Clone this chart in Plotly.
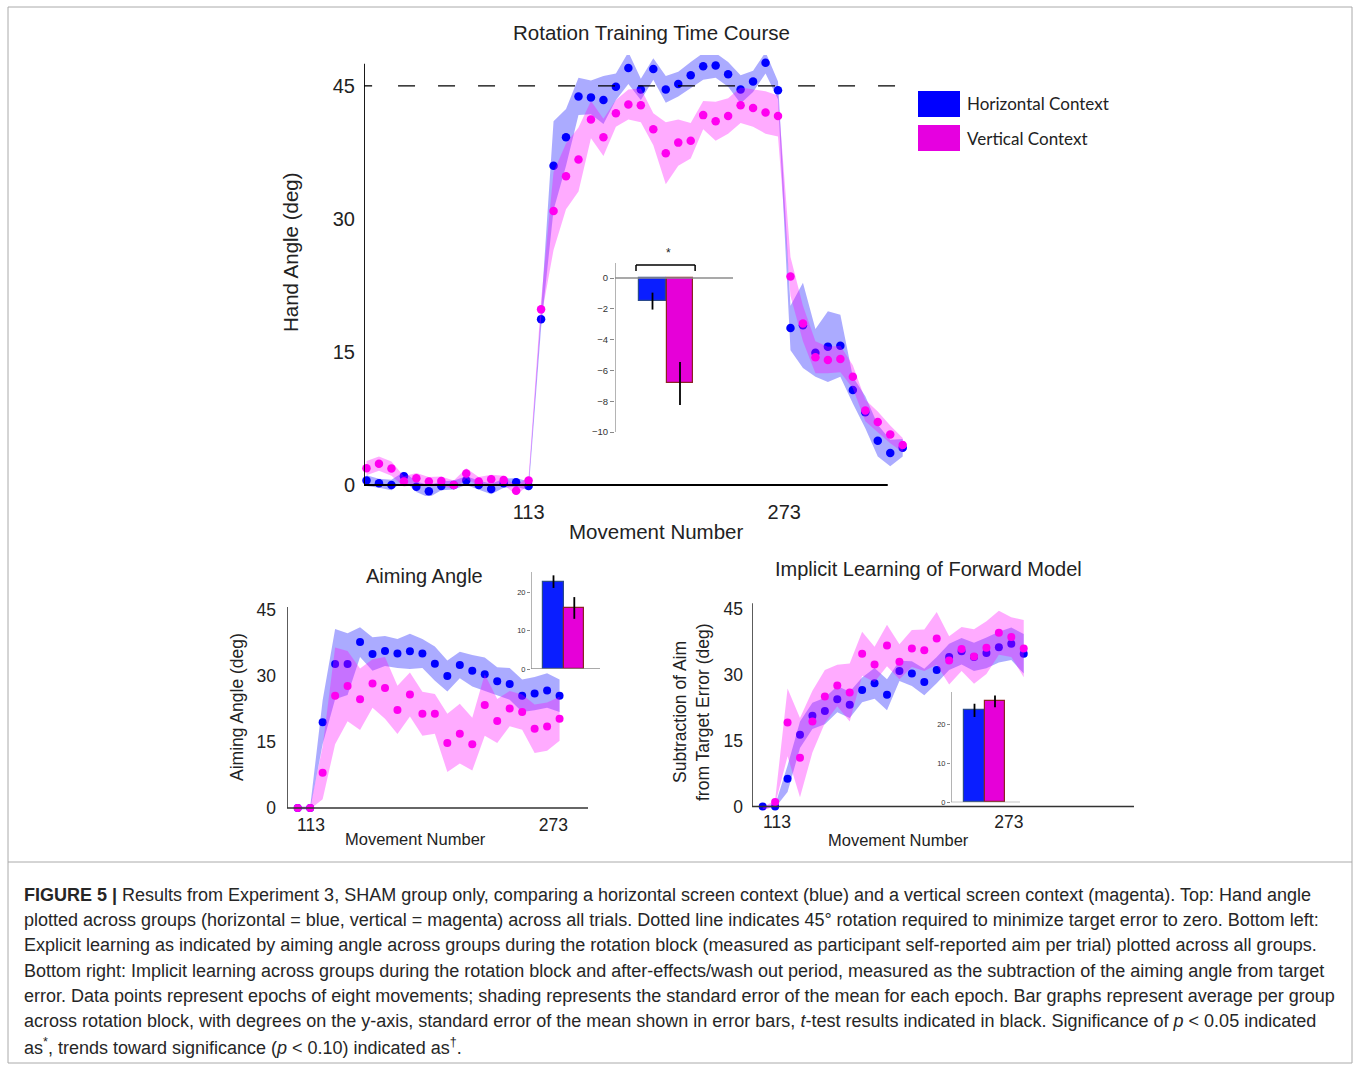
import plotly.graph_objects as go

W, H = 1360, 1066

# ---------------- data ----------------
# Top panel: 44 epochs (8 movements each): 14 baseline, 20 rotation, 10 washout
epochs_top = list(range(44))
top_blue = [0.5, 0.2, 0.0, 1.0, -0.2, -0.7, -0.1, 0.0, 0.5, 0.0, -0.45, 0.2, 0.3, -0.1,
            18.7,
            36.0, 39.2, 43.8, 43.7, 43.4, 44.9, 47.0, 44.6, 46.9, 44.6, 45.2, 46.2, 47.2,
            47.3, 46.3, 44.6, 45.5, 47.6, 44.5,
            17.7, 18.0, 14.9, 15.6, 15.7, 10.7, 8.2, 5.0, 3.6, 4.2]
top_blue_se = [0.6, 0.5, 0.6, 0.5, 0.6, 0.7, 0.5, 0.5, 0.5, 0.5, 0.6, 0.5, 0.5, 0.5,
               1.0,
               5.0, 3.2, 2.1, 1.9, 2.7, 1.5, 1.8, 1.2, 1.2, 1.5, 1.4, 1.5, 1.5,
               1.4, 1.4, 1.6, 1.2, 1.2, 1.0,
               2.5, 4.8, 2.7, 4.0, 3.5, 1.5, 1.8, 1.8, 1.5, 1.0]
top_pink = [1.9, 2.4, 1.85, 0.4, 0.75, 0.4, 0.45, 0.0, 1.3, 0.4, 0.65, 0.55, -0.65, 0.5,
            19.8,
            30.9, 34.8, 36.7, 41.2, 39.2, 41.9, 42.9, 42.8, 40.1, 37.4, 38.6, 38.8, 41.7,
            41.0, 41.6, 42.8, 42.5, 42.0, 41.6,
            23.5, 18.2, 14.4, 14.1, 14.2, 12.2, 8.4, 7.1, 5.7, 4.5]
top_pink_se = [0.8, 0.8, 0.8, 0.6, 0.6, 0.5, 0.5, 0.5, 0.6, 0.5, 0.5, 0.5, 0.5, 0.5,
               1.0,
               4.4, 3.7, 3.6, 2.1, 2.1, 1.5, 1.7, 1.9, 1.8, 3.5, 2.6, 2.0, 1.6,
               2.2, 2.0, 2.0, 2.1, 2.4, 2.3,
               2.2, 2.0, 1.8, 1.5, 1.5, 1.3, 1.2, 1.2, 1.0, 0.8]
top_tick_epochs = [13.0, 33.5]
top_tick_text = ["113", "273"]
top_yticks = [0, 15, 30, 45]
rotation_deg = 45

groups = ["Horizontal Context", "Vertical Context"]

# Top inset bars (difference, deg)
inset_top_vals = [-1.5, -6.85]
inset_top_err = [0.55, 1.4]
inset_top_yticks = [0, -2, -4, -6, -8, -10]

# Bottom panels: 22 epochs (2 baseline + 20 rotation)
epochs_bottom = list(range(22))
aim_blue = [0, 0, 19.5, 32.7, 32.7, 37.7, 35.0, 35.7, 35.1, 35.6, 35.1, 32.8, 30.0, 32.5,
            31.2, 30.4, 28.8, 28.2, 25.5, 26.0, 26.7, 25.5]
aim_blue_se = [0.3, 0.3, 5.0, 8.0, 7.0, 3.4, 3.8, 3.4, 3.3, 4.0, 3.3, 3.9, 3.5, 3.0,
               3.6, 3.8, 3.2, 3.6, 3.7, 3.8, 3.9, 3.7]
aim_pink = [0, 0, 8.0, 25.5, 27.7, 24.7, 28.3, 27.3, 22.3, 25.8, 21.4, 21.4, 14.8, 16.9,
            14.5, 23.4, 19.8, 22.6, 21.8, 18.0, 18.5, 20.3]
aim_pink_se = [0.3, 0.3, 6.0, 11.0, 8.0, 7.0, 5.5, 7.0, 5.5, 5.0, 5.0, 4.5, 6.6, 6.8,
               6.0, 7.0, 5.0, 4.0, 4.0, 5.5, 5.5, 5.0]
aim_tick_epochs = [1.07, 20.5]
aim_bar_vals = [22.9, 16.0]
aim_bar_err = [1.65, 2.85]

impl_blue = [0, 0, 6.3, 16.3, 20.6, 21.7, 24.4, 23.1, 26.5, 28.0, 25.4, 30.8, 30.2, 28.3,
             31.0, 34.0, 35.3, 34.0, 34.9, 36.2, 37.0, 34.7]
impl_blue_se = [0.3, 0.3, 3.0, 3.0, 3.0, 3.0, 3.0, 3.0, 2.8, 3.5, 3.5, 2.3, 2.8, 3.0,
                3.0, 3.0, 3.0, 3.2, 3.5, 3.5, 3.7, 4.5]
impl_pink = [-0.8, 1.0, 19.1, 11.1, 19.3, 25.0, 27.5, 25.9, 34.7, 32.3, 36.6, 32.9, 35.9,
             35.5, 38.2, 33.2, 35.8, 34.1, 36.1, 39.5, 38.5, 35.9]
impl_pink_se = [0.5, 0.5, 7.7, 9.0, 7.0, 6.0, 4.7, 6.6, 5.0, 4.0, 4.7, 4.0, 4.2, 4.7,
                6.0, 5.5, 5.0, 6.2, 6.0, 5.0, 4.5, 6.5]
impl_tick_epochs = [1.15, 19.8]
impl_bar_vals = [23.5, 25.8]
impl_bar_err = [1.7, 1.5]
bottom_yticks = [0, 15, 30, 45]
bar_ticks_small = [0, 10, 20]

# ---------------- styles ----------------
BLUE = "#0000ff"
PINK = "#ff00f0"
BLUE_BAND = "rgba(0,0,255,0.33)"
PINK_BAND = "rgba(255,0,255,0.33)"
BAR_BLUE = "#0a1eff"
BAR_PINK = "#e600d8"
FONT = "Liberation Sans"


def px2x(p):
    return p / W


def px2y(p):
    return 1 - p / H


def xaxis_spec(p0, p1, ref_px, ref_val, ppu):
    return dict(domain=[p0 / W, p1 / W],
                range=[ref_val + (p0 - ref_px) / ppu, ref_val + (p1 - ref_px) / ppu])


def yaxis_spec(ptop, pbot, ref_px, ref_val, ppu):
    return dict(domain=[1 - pbot / H, 1 - ptop / H],
                range=[ref_val - (pbot - ref_px) / ppu, ref_val + (ref_px - ptop) / ppu])


fig = go.Figure()


def band_and_points(x, vals, se, band_color, dot_color, xa, ya, size):
    up = [v + s for v, s in zip(vals, se)]
    lo = [v - s for v, s in zip(vals, se)]
    fig.add_trace(go.Scatter(x=list(x) + list(x)[::-1], y=up + lo[::-1], fill="toself",
                             fillcolor=band_color, line=dict(width=0), mode="lines",
                             hoverinfo="skip", showlegend=False, xaxis=xa, yaxis=ya))
    fig.add_trace(go.Scatter(x=list(x), y=vals, mode="markers",
                             marker=dict(color=dot_color, size=size, line=dict(width=0)),
                             cliponaxis=False, showlegend=False, xaxis=xa, yaxis=ya))


# blue band, blue dots, pink band, pink dots
for vals, se, bc, dc in [(top_blue, top_blue_se, BLUE_BAND, BLUE),
                         (top_pink, top_pink_se, PINK_BAND, PINK)]:
    band_and_points(epochs_top, vals, se, bc, dc, "x", "y", 8.5)

for vals, se, bc, dc in [(aim_blue, aim_blue_se, BLUE_BAND, BLUE),
                         (aim_pink, aim_pink_se, PINK_BAND, PINK)]:
    band_and_points(epochs_bottom, vals, se, bc, dc, "x3", "y3", 8)

for vals, se, bc, dc in [(impl_blue, impl_blue_se, BLUE_BAND, BLUE),
                         (impl_pink, impl_pink_se, PINK_BAND, PINK)]:
    band_and_points(epochs_bottom, vals, se, bc, dc, "x5", "y5", 8)


def bars(vals, errs, xa, ya):
    for i, (v, e, col, oc) in enumerate(zip(vals, errs, [BAR_BLUE, BAR_PINK],
                                             ["#2a4a8c", "#8b2323"])):
        fig.add_trace(go.Bar(x=[i], y=[v], width=0.98,
                             marker=dict(color=col, line=dict(color=oc, width=1.2)),
                             error_y=dict(type="data", array=[e], color="black", thickness=1.8, width=0),
                             showlegend=False, xaxis=xa, yaxis=ya, name=groups[i]))


bars(inset_top_vals, inset_top_err, "x2", "y2")
bars(aim_bar_vals, aim_bar_err, "x4", "y4")
bars(impl_bar_vals, impl_bar_err, "x6", "y6")

# ---------------- axes ----------------
base_ax = dict(showgrid=False, zeroline=False, showline=False)
tick_font_big = dict(family=FONT, size=20, color="#222")
tick_font_mid = dict(family=FONT, size=17.5, color="#222")
tick_font_small = dict(family=FONT, size=9.5, color="#333")
tick_font_tiny = dict(family=FONT, size=7.5, color="#333")

ax1x = xaxis_spec(364, 915, 366.5, 0, 12.47)
ax1y = yaxis_spec(55, 496, 485, 0, 8.87)
ax2x = xaxis_spec(615, 733, 652.5, 0, 27.5)
ax2y = yaxis_spec(244, 442, 278, 0, 15.4)
ax3x = xaxis_spec(287, 600, 297.7, 0, 12.47)
ax3y = yaxis_spec(598, 812, 808, 0, 4.4)
ax4x = xaxis_spec(531, 600, 553.5, 0, 20.8)
ax4y = yaxis_spec(566, 669, 669, 0, 3.815)
ax5x = xaxis_spec(752, 1140, 762.7, 0, 12.43)
ax5y = yaxis_spec(596, 809, 806.5, 0, 4.4)
ax6x = xaxis_spec(951, 1020, 974.5, 0, 20.5)
ax6y = yaxis_spec(686, 802.3, 802.3, 0, 3.915)

fig.update_layout(
    width=W, height=H, margin=dict(l=0, r=0, t=0, b=0, autoexpand=False),
    paper_bgcolor="white", plot_bgcolor="rgba(0,0,0,0)", bargap=0,
    xaxis=dict(**base_ax, **ax1x, tickvals=top_tick_epochs, ticktext=top_tick_text,
               ticks="", tickfont=tick_font_big, anchor="y", ticklabelstandoff=2),
    yaxis=dict(**base_ax, **ax1y, tickvals=top_yticks, ticks="", tickfont=tick_font_big,
               anchor="x", ticklabelstandoff=8),
    xaxis2=dict(**base_ax, **ax2x, showticklabels=False, ticks="", anchor="y2"),
    yaxis2=dict(**base_ax, **ax2y, tickvals=inset_top_yticks, ticks="outside", ticklen=4,
                tickcolor="#888", tickwidth=1, tickfont=tick_font_small, anchor="x2"),
    xaxis3=dict(**base_ax, **ax3x, tickvals=aim_tick_epochs, ticktext=top_tick_text,
                ticks="", tickfont=tick_font_mid, anchor="y3", ticklabelstandoff=0),
    yaxis3=dict(**base_ax, **ax3y, tickvals=bottom_yticks, ticks="", tickfont=tick_font_mid,
                anchor="x3", ticklabelstandoff=10),
    xaxis4=dict(**base_ax, **ax4x, showticklabels=False, ticks="", anchor="y4"),
    yaxis4=dict(**base_ax, **ax4y, tickvals=bar_ticks_small, ticks="outside", ticklen=3,
                tickcolor="#888", tickwidth=1, tickfont=tick_font_tiny, anchor="x4"),
    xaxis5=dict(**base_ax, **ax5x, tickvals=impl_tick_epochs, ticktext=top_tick_text,
                ticks="", tickfont=tick_font_mid, anchor="y5", ticklabelstandoff=0),
    yaxis5=dict(**base_ax, **ax5y, tickvals=bottom_yticks, ticks="", tickfont=tick_font_mid,
                anchor="x5", ticklabelstandoff=8),
    xaxis6=dict(**base_ax, **ax6x, showticklabels=False, ticks="", anchor="y6"),
    yaxis6=dict(**base_ax, **ax6y, tickvals=bar_ticks_small, ticks="outside", ticklen=3,
                tickcolor="#888", tickwidth=1, tickfont=tick_font_tiny, anchor="x6"),
)

shapes = []


def line(xref, yref, x0, y0, x1, y1, color="black", width=1.5, dash=None):
    d = dict(type="line", xref=xref, yref=yref, x0=x0, y0=y0, x1=x1, y1=y1,
             line=dict(color=color, width=width))
    if dash:
        d["line"]["dash"] = dash
    shapes.append(d)


# top main axes
x_left = ax1x["range"][0]
line("x", "y", x_left, 0, 41.8, 0, width=2)
line("x", "y", x_left, 0, x_left, 47.5, width=1.8)
# 45 deg reference dashed line
line("x", "y", x_left, rotation_deg, 0.45, rotation_deg, width=1.3)
line("x", "y", 2.53, rotation_deg, 42.4, rotation_deg, width=1.3, dash="17px,23px")

# top inset axes
x2l = ax2x["range"][0]
line("x2", "y2", x2l, 0, ax2x["range"][1], 0, color="#8c8c8c", width=1.3)
line("x2", "y2", x2l, -10, x2l, 0.97, color="#8c8c8c", width=1.3)
# significance bracket
line("x2", "y2", -0.6, 0.84, 1.55, 0.84, width=1.5)
line("x2", "y2", -0.6, 0.84, -0.6, 0.45, width=1.5)
line("x2", "y2", 1.55, 0.84, 1.55, 0.45, width=1.5)

# bottom-left axes
x3l = ax3x["range"][0]
line("x3", "y3", x3l, 0, 23.28, 0, color="#333", width=1.6)
line("x3", "y3", x3l, 0, x3l, 45.7, color="#333", width=1.6)
x4l = ax4x["range"][0]
line("x4", "y4", x4l, 0, ax4x["range"][1], 0, color="#8c8c8c", width=1.3)
line("x4", "y4", x4l, 0, x4l, 25.4, color="#8c8c8c", width=1.3)

# bottom-right axes
x5l = ax5x["range"][0]
line("x5", "y5", x5l, 0, 29.87, 0, color="#333", width=1.6)
line("x5", "y5", x5l, 0, x5l, 46.2, color="#333", width=1.6)
x6l = ax6x["range"][0]
line("x6", "y6", x6l, 0, ax6x["range"][1], 0, color="#8c8c8c", width=1.3)
line("x6", "y6", x6l, 0, x6l, 28.2, color="#8c8c8c", width=1.3)

# legend swatches
for (y0, y1), col in zip([(91, 117), (125, 151)], [BLUE, "#e600e0"]):
    shapes.append(dict(type="rect", xref="paper", yref="paper", x0=px2x(918), x1=px2x(960),
                       y0=px2y(y1), y1=px2y(y0), fillcolor=col, line=dict(width=0)))

# figure frame and caption separator
shapes.append(dict(type="rect", xref="paper", yref="paper", x0=px2x(8), x1=px2x(1352),
                   y0=px2y(1063), y1=px2y(7), line=dict(color="#aaaaaa", width=1)))
line("paper", "paper", px2x(8), px2y(862), px2x(1352), px2y(862), color="#aaaaaa", width=1)

fig.update_layout(shapes=shapes)

ann = []


def text(s, x, y, size, angle=0, xanchor="center", family=FONT, color="#222"):
    ann.append(dict(text=s, x=px2x(x), y=px2y(y), xref="paper", yref="paper", showarrow=False,
                    xanchor=xanchor, yanchor="middle", textangle=angle,
                    font=dict(family=family, size=size, color=color)))


text("Rotation Training Time Course", 651, 33, 20.5)
text("Hand Angle (deg)", 290, 252, 20.5, angle=-90)
text("Movement Number", 656, 531, 20.5)
text("*", 668, 253, 12)
text(groups[0], 965, 104, 17, xanchor="left", family="Lato")
text(groups[1], 965, 138, 17, xanchor="left", family="Lato")

text("Aiming Angle", 424, 576, 20)
text("Aiming Angle (deg)", 237, 707, 17.5, angle=-90)
text("Movement Number", 415, 839, 16.5)

text("Implicit Learning of Forward Model", 928, 569, 20)
text("Subtraction of Aim", 680, 712, 17.5, angle=-90)
text("from Target Error (deg)", 703, 712, 17.5, angle=-90)
text("Movement Number", 898, 840, 16.5)

caption_lines = [
    "<b>FIGURE 5 |</b> Results from Experiment 3, SHAM group only, comparing a horizontal screen context (blue) and a vertical screen context (magenta). Top: Hand angle",
    "plotted across groups (horizontal = blue, vertical = magenta) across all trials. Dotted line indicates 45° rotation required to minimize target error to zero. Bottom left:",
    "Explicit learning as indicated by aiming angle across groups during the rotation block (measured as participant self-reported aim per trial) plotted across all groups.",
    "Bottom right: Implicit learning across groups during the rotation block and after-effects/wash out period, measured as the subtraction of the aiming angle from target",
    "error. Data points represent epochs of eight movements; shading represents the standard error of the mean for each epoch. Bar graphs represent average per group",
    "across rotation block, with degrees on the y-axis, standard error of the mean shown in error bars, <i>t</i>-test results indicated in black. Significance of <i>p</i> &lt; 0.05 indicated",
    "as<sup>*</sup>, trends toward significance (<i>p</i> &lt; 0.10) indicated as<sup>†</sup>.",
]
for k, s in enumerate(caption_lines):
    text(s, 22, 895 + k * 25.2, 18, xanchor="left", color="#262626")

fig.update_layout(annotations=ann)

fig.write_html(
    "out.html",
    config={"displayModeBar": False},
    post_script=("document.documentElement.style.margin='0';"
                 "document.documentElement.style.overflow='hidden';"
                 "document.body.style.margin='0';"
                 "document.body.style.overflow='hidden';"),
)
